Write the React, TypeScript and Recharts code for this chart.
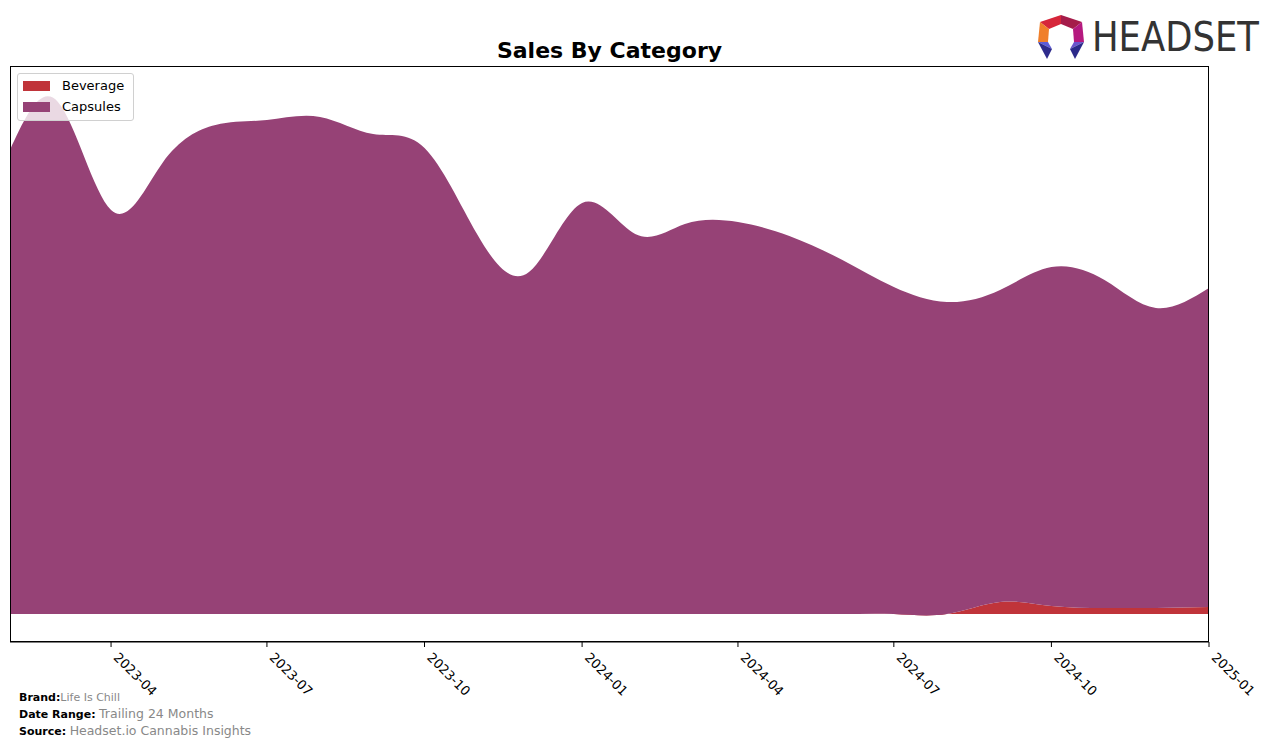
import React from 'react';
import { AreaChart, Area, XAxis, YAxis } from 'recharts';

const months = [
  '2023-02', '2023-03', '2023-04', '2023-05', '2023-06', '2023-07', '2023-08', '2023-09',
  '2023-10', '2023-11', '2023-12', '2024-01', '2024-02', '2024-03', '2024-04', '2024-05',
  '2024-06', '2024-07', '2024-08', '2024-09', '2024-10', '2024-11', '2024-12', '2025-01',
];

const beverage = [0, 0, 0, 0, 0, 0, 0, 0, 0, 0, 0, 0, 0, 0, 0, 0, 0, 0, 0, 12, 8, 6, 6, 7];

const capsules = [
  464, 512, 404, 451, 489, 494, 497, 480, 466, 379, 342, 411,
  380, 390, 392, 378, 354, 327, 312, 312, 339, 328, 300, 319,
];

const tickMonths = ['2023-04', '2023-07', '2023-10', '2024-01', '2024-04', '2024-07', '2024-10', '2025-01'];

const COLORS = { beverage: '#c0343a', capsules: '#964276' };

// month label -> day number (x position on a time axis)
const toDay = (m: string) => {
  const [y, mo] = m.split('-').map(Number);
  return Date.UTC(y, mo - 1, 1) / 86400000;
};

const data = months.map((m, i) => ({
  day: toDay(m),
  month: m,
  beverage: beverage[i],
  capsules: capsules[i],
}));

const tickDays = tickMonths.map(toDay);
const dayLabel: Record<number, string> = {};
tickMonths.forEach((m) => (dayLabel[toDay(m)] = m));

const font = '"DejaVu Sans", sans-serif';

function AngledTick(props: any) {
  const { x, y, payload } = props;
  const ax = x + 5;
  const ay = y + 6;
  return (
    <text
      x={ax}
      y={ay}
      transform={`rotate(45, ${ax}, ${ay})`}
      textAnchor="start"
      dominantBaseline="central"
      fontFamily={font}
      fontSize={13}
      fill="#000"
    >
      {dayLabel[payload.value]}
    </text>
  );
}

function LegendBox() {
  const items = [
    { name: 'Beverage', color: COLORS.beverage },
    { name: 'Capsules', color: COLORS.capsules },
  ];
  return (
    <div
      style={{
        position: 'absolute',
        left: 17,
        top: 73,
        border: '1px solid #d0d0d0',
        borderRadius: 3,
        background: 'rgba(255,255,255,0.8)',
        padding: '1px 6px 3px 5px',
        fontSize: 13,
        width: 104,
      }}
    >
      {items.map((it) => (
        <div key={it.name} style={{ display: 'flex', alignItems: 'center', height: 21 }}>
          <span style={{ width: 27, height: 10, background: it.color, marginRight: 12 }} />
          <span>{it.name}</span>
        </div>
      ))}
    </div>
  );
}

function Logo() {
  return (
    <>
      <svg width={54} height={52} style={{ position: 'absolute', left: 1034, top: 12 }}>
        <polygon points="6,10 27,3 27,12 15,17" fill="#d6263a" />
        <polygon points="27,3 48,10 39,17 27,12" fill="#a51c4a" />
        <polygon points="48,10 50,30 40,30 39,17" fill="#b5197f" />
        <polygon points="6,10 15,17 14,30 4,30" fill="#f07f2a" />
        <polygon points="4,30 14,30 18,37" fill="#5e5cd8" />
        <polygon points="4,30 18,37 13,47" fill="#2e2b8c" />
        <polygon points="50,30 40,30 36,37" fill="#6a55cc" />
        <polygon points="50,30 36,37 41,47" fill="#2c2a8a" />
      </svg>
      <div
        style={{
          position: 'absolute',
          left: 1092,
          top: 11,
          fontSize: 40,
          lineHeight: '52px',
          color: '#333',
          whiteSpace: 'nowrap',
          transform: 'scaleX(0.885)',
          transformOrigin: '0 0',
        }}
      >
        HEADSET
      </div>
    </>
  );
}

export default function App() {
  return (
    <div
      style={{
        position: 'absolute',
        left: 0,
        top: 0,
        width: 1276,
        height: 745,
        background: '#fff',
        fontFamily: font,
      }}
    >
      <div
        style={{
          position: 'absolute',
          top: 38,
          left: 10,
          width: 1199,
          textAlign: 'center',
          fontWeight: 'bold',
          fontSize: 22,
        }}
      >
        Sales By Category
      </div>
      <Logo />
      <AreaChart
        width={1276}
        height={745}
        data={data}
        margin={{ top: 66, right: 67, left: 10, bottom: 73 }}
      >
        <XAxis
          dataKey="day"
          type="number"
          domain={['dataMin', 'dataMax']}
          ticks={tickDays}
          tick={<AngledTick />}
          tickSize={5}
          axisLine={{ stroke: '#000' }}
          tickLine={{ stroke: '#000' }}
          height={30}
          allowDataOverflow
        />
        <YAxis type="number" domain={[-28, 548]} hide allowDataOverflow />
        <Area
          type="natural"
          dataKey="beverage"
          name="Beverage"
          stackId="1"
          stroke="none"
          fill={COLORS.beverage}
          fillOpacity={1}
          isAnimationActive={false}
        />
        <Area
          type="natural"
          dataKey="capsules"
          name="Capsules"
          stackId="1"
          stroke="none"
          fill={COLORS.capsules}
          fillOpacity={1}
          isAnimationActive={false}
        />
      </AreaChart>
      <div
        style={{
          position: 'absolute',
          left: 10,
          top: 66,
          width: 1199,
          height: 576,
          boxSizing: 'border-box',
          border: '1px solid #000',
          pointerEvents: 'none',
        }}
      />
      <LegendBox />
      <div style={{ position: 'absolute', left: 19, top: 690, fontSize: 11, lineHeight: '16px' }}>
        <div>
          <b>Brand:</b>
          <span style={{ color: '#888', fontSize: 11 }}>Life Is Chill</span>
        </div>
        <div>
          <b>Date Range:</b> <span style={{ color: '#888', fontSize: 12.5 }}>Trailing 24 Months</span>
        </div>
        <div>
          <b>Source:</b> <span style={{ color: '#888', fontSize: 12.5 }}>Headset.io Cannabis Insights</span>
        </div>
      </div>
    </div>
  );
}
